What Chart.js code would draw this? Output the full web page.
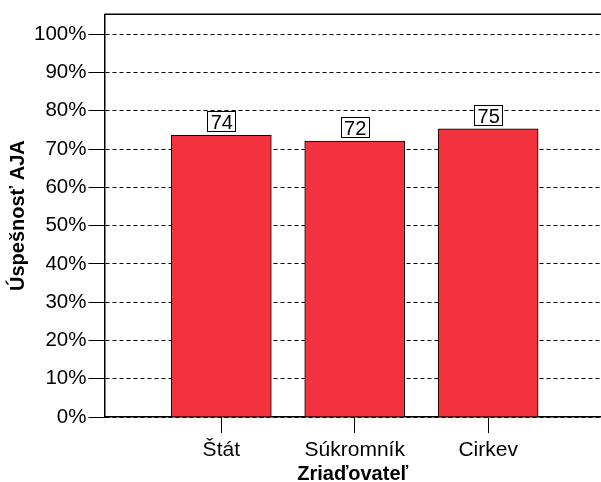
<!DOCTYPE html>
<html>
<head>
<meta charset="utf-8">
<script src="https://cdn.jsdelivr.net/npm/chart.js@4"></script>
<style>
  html, body { margin: 0; padding: 0; background: #fff; }
  #wrap { width: 601px; height: 482px; }
</style>
</head>
<body>
<div id="wrap"><canvas id="chart" width="601" height="482"></canvas></div>
<script>
// ===== DATA =====
const categories = ['Štát', 'Súkromník', 'Cirkev'];
const values = [73.6, 72.1, 75.3];
const valueLabels = ['74', '72', '75'];
const yTicks = [0, 10, 20, 30, 40, 50, 60, 70, 80, 90, 100];

const FONT = '"Liberation Sans", Arial, Helvetica, sans-serif';

// boxed value labels above bars + top frame line
const boxLabels = {
    id: 'boxLabels',
    afterDatasetsDraw(chart) {
        const ctx = chart.ctx;
        const meta = chart.getDatasetMeta(0);
        ctx.save();
        ctx.font = '20px ' + FONT;
        ctx.textAlign = 'center';
        ctx.textBaseline = 'alphabetic';
        meta.data.forEach((bar, i) => {
            const txt = valueLabels[i];
            const w = Math.round(ctx.measureText(txt).width + 6);
            const h = 20;
            const x = Math.round(bar.x - w / 2);
            const y = Math.round(bar.y - 4 - h);
            ctx.fillStyle = '#fff';
            ctx.fillRect(x, y, w, h);
            ctx.strokeStyle = '#000';
            ctx.lineWidth = 1;
            ctx.strokeRect(x + 0.5, y + 0.5, w, h);
            ctx.fillStyle = '#000';
            ctx.fillText(txt, bar.x + 0.5, y + h - 2);
        });
        // top frame
        const a = chart.chartArea;
        ctx.strokeStyle = '#000';
        ctx.lineWidth = 1.5;
        ctx.beginPath();
        ctx.moveTo(a.left, a.top);
        ctx.lineTo(a.right, a.top);
        ctx.stroke();
        ctx.restore();
    }
};

new Chart(document.getElementById('chart'), {
    type: 'bar',
    data: {
        datasets: [{
            data: values.map((v, i) => ({ x: i + 1, y: v })),
            backgroundColor: '#F2333D',
            borderColor: '#000',
            borderWidth: 1,
            barThickness: 100
        }]
    },
    options: {
        responsive: false,
        animation: false,
        layout: { padding: { top: 13, right: 0, left: 0, bottom: 0 } },
        plugins: {
            legend: { display: false },
            tooltip: { enabled: false }
        },
        scales: {
            x: {
                type: 'linear',
                offset: false,
                min: 0.124,
                max: 3.846,
                afterBuildTicks: (scale) => {
                    scale.ticks = categories.map((c, i) => ({ value: i + 1 }));
                },
                ticks: {
                    callback: (v) => categories[v - 1] || '',
                    color: '#000',
                    font: { family: FONT, size: 21 },
                    padding: 5,
                    maxRotation: 0
                },
                grid: {
                    offset: false,
                    drawOnChartArea: false,
                    tickLength: 16,
                    tickColor: '#000',
                    tickWidth: 1
                },
                border: { color: '#000', width: 1.5 },
                title: {
                    display: true,
                    text: 'Zriaďovateľ',
                    color: '#000',
                    font: { family: FONT, size: 20, weight: 'bold' },
                    padding: { top: -5.7, bottom: -4.5 }
                }
            },
            y: {
                min: 0,
                max: 105.2,
                afterBuildTicks: (scale) => {
                    scale.ticks = yTicks.map(v => ({ value: v }));
                },
                ticks: {
                    callback: (v) => v + '%',
                    color: '#000',
                    font: { family: FONT, size: 20.5 },
                    padding: 2
                },
                grid: {
                    color: '#000',
                    lineWidth: 1,
                    tickLength: 16,
                    tickColor: '#000',
                    tickBorderDash: []
                },
                border: { color: '#000', width: 1.5, dash: [4, 3] },
                title: {
                    display: true,
                    text: 'Úspešnosť AJA',
                    color: '#000',
                    font: { family: FONT, size: 20, weight: 'bold' },
                    padding: { top: 6, bottom: 2 }
                }
            }
        }
    },
    plugins: [boxLabels]
});
</script>
</body>
</html>
